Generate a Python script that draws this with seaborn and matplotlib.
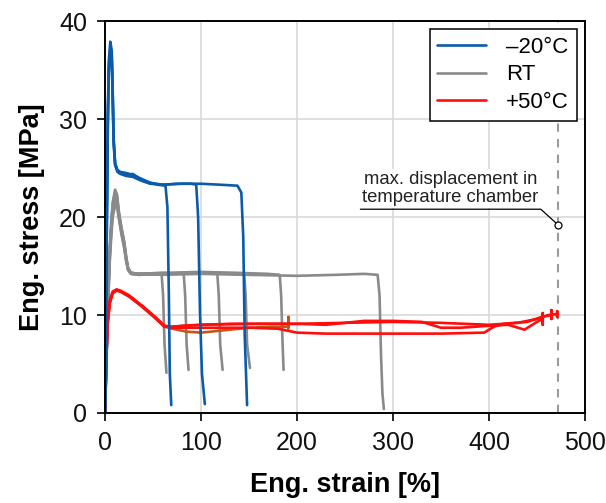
import numpy as np
import pandas as pd
import matplotlib
matplotlib.use("Agg")
import matplotlib.pyplot as plt
from matplotlib.lines import Line2D
import seaborn as sns

# ---------------- data ----------------
# -20 °C specimens
cold1_strain = [0, 1, 2, 3, 4, 5.5, 7, 8, 9, 10.5, 13, 16, 22, 29, 38, 47, 55, 63, 65, 66.5, 67.5, 69]
cold1_stress = [0, 10, 22, 31, 36, 37.9, 37, 33, 28, 25.5, 24.8, 24.6, 24.5, 24.3, 23.9, 23.5, 23.3, 23.2, 21, 12, 4, 0.8]
cold2_strain = [0, 1, 2, 3, 4, 5.5, 7, 8, 9, 10.5, 13, 16, 22, 29, 38, 47, 60, 75, 90, 95, 97, 99, 101, 104]
cold2_stress = [0, 9, 20, 30, 35, 36.6, 36, 32, 27.5, 25.3, 24.6, 24.4, 24.2, 24.1, 23.7, 23.4, 23.3, 23.4, 23.4, 23.3, 20, 10, 4, 0.9]
cold3_strain = [0, 1, 2, 3, 4, 5.5, 7, 8, 9, 10.5, 13, 16, 22, 29, 38, 47, 60, 80, 100, 120, 138, 142, 144, 145.5, 148]
cold3_stress = [0, 9.5, 21, 30.5, 35.5, 37.2, 36.5, 32.5, 27.8, 25.4, 24.7, 24.5, 24.3, 24.4, 23.8, 23.5, 23.3, 23.4, 23.4, 23.3, 23.2, 22.5, 18, 8, 0.8]

# room temperature specimens
rt1_strain = [0, 1, 2, 3, 4, 5, 6.5, 8, 10.5, 12.5, 14.5, 17, 20, 22, 24, 27, 35, 50, 59, 60.5, 62, 64]
rt1_stress = [0, 4, 8, 11.5, 14.5, 17, 19.5, 21.5, 22.8, 22.3, 20.5, 19, 17.5, 16, 14.8, 14.3, 14.2, 14.2, 14.1, 12, 7, 4.1]
rt2_strain = [0, 1, 2, 3, 4, 5, 6.5, 8, 10.5, 12.5, 14.5, 17, 20, 22, 24, 27, 35, 60, 82, 83.5, 85, 87]
rt2_stress = [0, 3.8, 7.6, 11, 14, 16.5, 19, 21, 22.2, 21.8, 20.2, 18.7, 17.2, 15.8, 14.7, 14.3, 14.2, 14.3, 14.2, 12, 7, 4.4]
rt3_strain = [0, 1, 2, 3, 4, 5, 6.5, 8, 10.5, 12.5, 14.5, 17, 20, 22, 24, 27, 35, 60, 90, 117, 118.5, 120, 122.5]
rt3_stress = [0, 3.6, 7.2, 10.5, 13.5, 16, 18.5, 20.4, 21.7, 21.4, 20, 18.5, 17, 15.6, 14.6, 14.2, 14.1, 14.2, 14.3, 14.2, 12, 7, 4.4]
rt4_strain = [0, 1, 2, 3, 4, 5, 6.5, 8, 10.5, 12.5, 14.5, 17, 20, 22, 24, 27, 35, 60, 100, 130, 145, 146.5, 148, 151]
rt4_stress = [0, 3.4, 6.8, 10, 13, 15.5, 18, 20, 21.2, 21, 19.8, 18.3, 16.8, 15.5, 14.6, 14.2, 14.1, 14.2, 14.3, 14.2, 14.1, 12, 7, 4.6]
rt5_strain = [0, 1, 2, 3, 4, 5, 6.5, 8, 10.5, 12.5, 14.5, 17, 20, 22, 24, 27, 35, 60, 100, 140, 170, 182, 183.5, 185, 186]
rt5_stress = [0, 3.7, 7.4, 10.8, 13.8, 16.3, 18.8, 20.8, 22.0, 21.6, 20.1, 18.6, 17.1, 15.7, 14.7, 14.3, 14.2, 14.3, 14.4, 14.3, 14.2, 14.1, 12, 7, 4.4]
rt6_strain = [0, 1, 2, 3, 4, 5, 6.5, 8, 10.5, 12.5, 14.5, 17, 20, 22, 24, 27, 35, 60, 100, 150, 200, 240, 270, 284, 286, 287.5, 289, 290.5]
rt6_stress = [0, 3.9, 7.8, 11.3, 14.3, 16.8, 19.3, 21.3, 22.6, 22.1, 20.4, 18.9, 17.4, 15.9, 14.8, 14.3, 14.2, 14.1, 14.2, 14.1, 14.0, 14.1, 14.2, 14.1, 12, 6, 2, 0.4]

# +50 °C specimens
hot1_strain = [0, 1, 2, 3, 5, 8, 12, 16, 25, 39, 52, 62, 70, 80, 100, 130, 160, 200, 230, 250, 270, 300, 330, 350, 370, 400, 420, 437, 450, 456, 456, 456, 456]
hot1_stress = [0, 4, 7.5, 9.5, 11.3, 12.3, 12.6, 12.5, 12.0, 10.9, 9.8, 8.8, 8.8, 8.9, 9.0, 9.1, 9.1, 9.1, 9.0, 9.2, 9.4, 9.4, 9.3, 8.7, 8.7, 8.9, 9.0, 8.5, 9.3, 9.6, 10.2, 9.0, 9.6]
hot2_strain = [0, 1, 2, 3, 5, 8, 12, 16, 25, 39, 52, 62, 70, 100, 150, 180, 200, 230, 300, 350, 395, 405, 415, 440, 455, 465, 465, 465, 465]
hot2_stress = [0, 4.2, 7.7, 9.7, 11.5, 12.4, 12.6, 12.4, 11.9, 10.8, 9.7, 8.8, 8.7, 8.7, 8.7, 8.6, 8.2, 8.1, 8.1, 8.1, 8.2, 8.8, 9.1, 9.3, 9.8, 10.0, 10.5, 9.6, 10.0]
hot3_strain = [0, 1, 2, 3, 5, 8, 12, 16, 25, 39, 52, 62, 70, 100, 150, 200, 250, 300, 350, 400, 430, 450, 462, 471, 471, 471, 471]
hot3_stress = [0, 3.9, 7.3, 9.4, 11.2, 12.2, 12.5, 12.4, 11.9, 10.9, 9.8, 8.9, 8.8, 9.0, 9.1, 9.1, 9.2, 9.3, 9.2, 9.0, 9.2, 9.6, 10.0, 10.1, 10.4, 9.8, 10.1]
hot4_strain = [0, 1, 2, 3, 5, 8, 12, 16, 25, 39, 52, 62, 70, 85, 100, 120, 150, 175, 191, 191, 191]
hot4_stress = [0, 4.1, 7.6, 9.6, 11.4, 12.3, 12.5, 12.4, 12.0, 10.9, 9.8, 8.9, 8.6, 8.3, 8.2, 8.4, 8.7, 8.8, 8.8, 9.8, 8.6]

legend_labels = ["\u201320\u00b0C", "RT", "+50\u00b0C"]
max_disp_strain = 472
max_disp_label = "max. displacement in\ntemperature chamber"

# ---------------- styling ----------------
c_blue = "#0a5cab"
c_gray = "#8a8a8a"
c_red = "#ff0d0d"
c_orange = "#c0581a"

curves = [
    ("rt1", rt1_strain, rt1_stress, c_gray),
    ("rt2", rt2_strain, rt2_stress, c_gray),
    ("rt3", rt3_strain, rt3_stress, c_gray),
    ("rt4", rt4_strain, rt4_stress, c_gray),
    ("rt5", rt5_strain, rt5_stress, c_gray),
    ("rt6", rt6_strain, rt6_stress, c_gray),
    ("hot4", hot4_strain, hot4_stress, c_orange),
    ("hot1", hot1_strain, hot1_stress, c_red),
    ("hot2", hot2_strain, hot2_stress, c_red),
    ("hot3", hot3_strain, hot3_stress, c_red),
    ("cold1", cold1_strain, cold1_stress, c_blue),
    ("cold2", cold2_strain, cold2_stress, c_blue),
    ("cold3", cold3_strain, cold3_stress, c_blue),
]

frames = []
for name, xs, ys, _ in curves:
    frames.append(pd.DataFrame({"strain": xs, "stress": ys, "specimen": name}))
df = pd.concat(frames, ignore_index=True)
palette = {name: col for name, _, _, col in curves}

sns.set_theme(style="white")
plt.rcParams["font.family"] = ["Liberation Sans", "DejaVu Sans"]

fig = plt.figure(figsize=(6.06, 5.03), dpi=100)
ax = fig.add_axes([0.1733, 0.179, 0.792, 0.779])

sns.lineplot(data=df, x="strain", y="stress", hue="specimen", palette=palette,
             hue_order=[c[0] for c in curves], estimator=None, sort=False,
             legend=False, linewidth=1.9, ax=ax)

# max displacement marker
ax.axvline(max_disp_strain, color="#9a9a9a", lw=1.5, ls=(0, (4, 3.5)), zorder=1)
ax.plot([266, 454, max_disp_strain], [20.8, 20.8, 19.2], color="black", lw=0.9, zorder=5)
ax.plot([max_disp_strain], [19.2], marker="o", ms=5, mfc="white", mec="black", mew=0.9, zorder=6)
ax.text(360, 22.9, max_disp_label, ha="center", va="center", fontsize=13.3,
        color="#222222", linespacing=1.12,
        bbox=dict(facecolor="white", edgecolor="none", pad=1.0), zorder=4)

ax.set_xlim(0, 500)
ax.set_ylim(0, 40)
ax.set_xticks([0, 100, 200, 300, 400, 500])
ax.set_yticks([0, 10, 20, 30, 40])
ax.grid(True, color="#d9d9d9", lw=1.2)
ax.set_axisbelow(True)
for s in ax.spines.values():
    s.set_color("black")
    s.set_linewidth(1.4)
ax.tick_params(axis="both", which="major", direction="out", length=6, width=1.2,
               color="black", labelsize=18, labelcolor="#111111", pad=7,
               bottom=True, left=True)
ax.set_xlabel("Eng. strain [%]", fontsize=19.5, fontweight="bold", labelpad=12, color="black")
ax.set_ylabel("Eng. stress [MPa]", fontsize=19.5, fontweight="bold", labelpad=10, color="black")

handles = [Line2D([], [], color=c_blue, lw=1.9),
           Line2D([], [], color=c_gray, lw=1.9),
           Line2D([], [], color=c_red, lw=1.9)]
leg = ax.legend(handles, legend_labels, loc="upper right", bbox_to_anchor=(0.983, 0.98),
                borderaxespad=0, fontsize=16, frameon=True, fancybox=False,
                edgecolor="black", framealpha=1, handlelength=2.2, handletextpad=0.9,
                labelspacing=0.3, borderpad=0.35)
leg.get_frame().set_linewidth(1.1)
for t in leg.get_texts():
    t.set_color("black")

fig.savefig("out.png", dpi=100)
